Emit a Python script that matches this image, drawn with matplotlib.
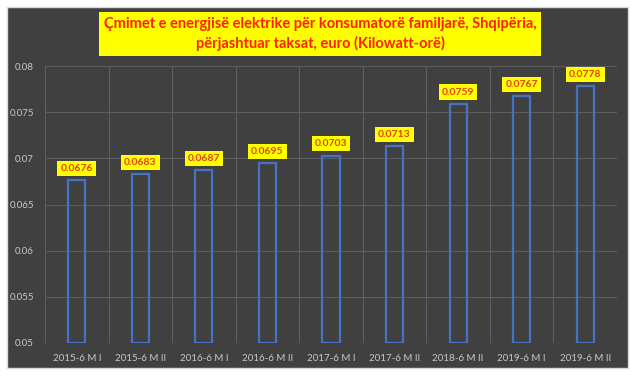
import matplotlib
matplotlib.use("Agg")
import matplotlib.pyplot as plt
from matplotlib.patches import Rectangle
import numpy as np

categories = ["2015-6 M I", "2015-6 M II", "2016-6 M I", "2016-6 M II", "2017-6 M I",
              "2017-6 M II", "2018-6 M II", "2019-6 M I", "2019-6 M II"]
values = [0.0676, 0.0683, 0.0687, 0.0695, 0.0703, 0.0713, 0.0759, 0.0767, 0.0778]
labels = ["0.0676", "0.0683", "0.0687", "0.0695", "0.0703", "0.0713", "0.0759", "0.0767", "0.0778"]
yticks = [0.05, 0.055, 0.06, 0.065, 0.07, 0.075, 0.08]
ytick_labels = ["0.05", "0.055", "0.06", "0.065", "0.07", "0.075", "0.08"]
title = "Çmimet e energjisë elektrike për konsumatorë familjarë, Shqipëria,\npërjashtuar taksat, euro (Kilowatt-orë)"

plt.rcParams['font.family'] = ['Lato', 'DejaVu Sans']

W, H = 640, 376
fig = plt.figure(figsize=(W/100, H/100), dpi=100, facecolor="white")
bg = Rectangle((7/W, 1 - 368/H), (628-7)/W, (368-7)/H, transform=fig.transFigure,
               facecolor="#404040", edgecolor="#d9d9d9", linewidth=1.0, zorder=-10)
fig.patches.append(bg)

ax = fig.add_axes([45/W, 1 - 343/H, (617-45)/W, (343-66)/H])
ax.set_zorder(1)
ax.set_facecolor("none")
x = np.arange(len(categories))
ax.bar(x, [v - 0.05 for v in values], bottom=0.05, width=0.27, facecolor="none",
       edgecolor="#4472C4", linewidth=1.6, zorder=3)
ax.set_xlim(-0.5, len(categories) - 0.5)
ax.set_ylim(0.05, 0.08)
ax.set_yticks(yticks)
ax.set_yticklabels(ytick_labels)
ax.set_xticks(x)
ax.set_xticklabels(categories)
ax.set_xticks(np.arange(-0.5, len(categories)), minor=True)
ax.tick_params(axis="both", which="both", length=0, colors="#c8c8c8", labelsize=7)
ax.tick_params(axis="x", pad=8)
ax.tick_params(axis="y", pad=8)
ax.grid(axis="y", which="major", color="#5e5e5e", linewidth=0.8, zorder=1)
ax.grid(axis="x", which="minor", color="#5e5e5e", linewidth=0.8, zorder=1)
ax.grid(axis="x", which="major", visible=False)
for s in ax.spines.values():
    s.set_visible(False)

for xi, v, lab in zip(x, values, labels):
    ax.annotate(lab, (xi, v), xytext=(0, 8.5), textcoords="offset points", ha="center", va="center",
                fontsize=7.5, fontweight="bold", color="#E8400C",
                bbox=dict(boxstyle="square,pad=0.3", facecolor="#FFFF00", edgecolor="none"), zorder=5)

fig.text(0.5, 1 - 34/H, title, ha="center", va="center", fontsize=10.5, fontweight="bold",
         color="#FF2000", linespacing=1.45, zorder=5,
         bbox=dict(boxstyle="square,pad=0.3", facecolor="#FFFF00", edgecolor="none"))

fig.savefig("out.png", dpi=100, facecolor="white")
